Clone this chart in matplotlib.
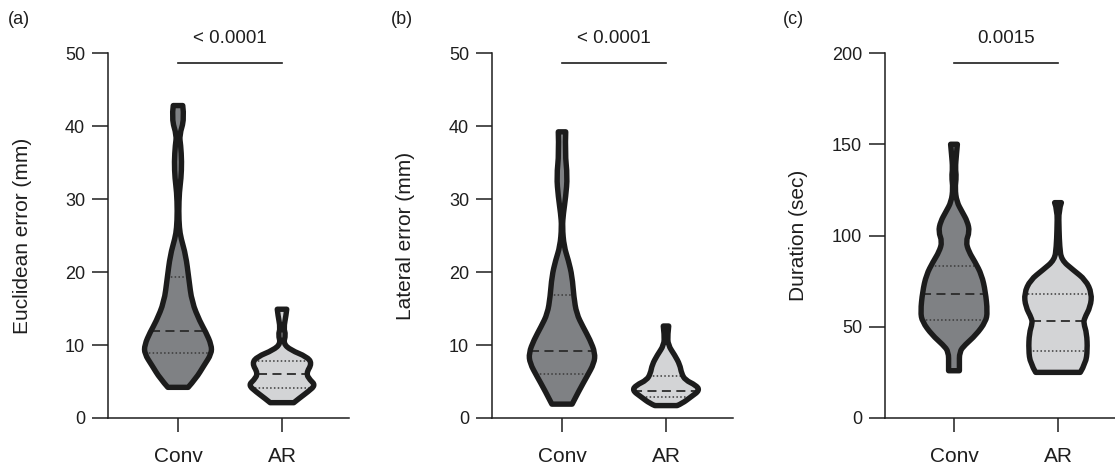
import numpy as np
import matplotlib
matplotlib.use("Agg")
import matplotlib.pyplot as plt
from matplotlib.path import Path
from matplotlib.patches import PathPatch

plt.rcParams['font.family'] = ['Liberation Sans', 'DejaVu Sans']

# ---------------- data ----------------
categories = ["Conv", "AR"]
panel_tags = ["(a)", "(b)", "(c)"]
y_labels = ["Euclidean error (mm)", "Lateral error (mm)", "Duration (sec)"]
y_ticks = [[0, 10, 20, 30, 40, 50], [0, 10, 20, 30, 40, 50], [0, 50, 100, 150, 200]]
p_values = ["< 0.0001", "< 0.0001", "0.0015"]

# violin profiles: value levels (bottom -> top) and relative half-width (max ~1)
a_conv_y = [4.2, 5.4, 7.2, 8.8, 10.0, 11.8, 13.2, 15.9, 19.1, 22.3, 24.6, 26.0, 28.3, 31.0, 32.8, 35.1, 37.4, 38.7, 41.0, 42.8]
a_conv_w = [0.30, 0.53, 0.77, 0.99, 0.99, 0.82, 0.65, 0.41, 0.32, 0.23, 0.09, 0.04, 0.02, 0.04, 0.09, 0.11, 0.08, 0.04, 0.19, 0.14]
a_ar_y = [2.1, 2.7, 3.6, 4.5, 5.2, 6.1, 7.5, 8.4, 9.3, 10.2, 11.4, 12.3, 14.1, 14.9]
a_ar_w = [0.35, 0.51, 0.77, 0.99, 0.83, 0.71, 0.89, 0.73, 0.26, 0.04, 0.11, 0.05, 0.12, 0.14]

b_conv_y = [1.9, 3.8, 5.7, 7.5, 8.9, 10.7, 12.5, 14.3, 16.6, 19.4, 21.6, 23.5, 26.2, 28.0, 30.3, 33.1, 36.3, 39.2]
b_conv_w = [0.30, 0.51, 0.74, 0.95, 0.98, 0.83, 0.62, 0.43, 0.35, 0.30, 0.19, 0.06, 0.01, 0.04, 0.11, 0.16, 0.09, 0.11]
b_ar_y = [1.7, 2.0, 2.9, 3.8, 4.5, 5.2, 6.1, 7.3, 8.6, 10.0, 11.4, 12.6]
b_ar_w = [0.33, 0.48, 0.74, 1.00, 0.88, 0.57, 0.46, 0.41, 0.26, 0.06, 0.05, 0.08]

c_conv_y = [25.9, 29.0, 36.3, 40.0, 45.5, 52.8, 58.2, 69.2, 78.4, 85.6, 91.1, 96.6, 102.1, 107.6, 113.0, 118.5, 125.9, 132.2, 136.8, 144.1, 150.0]
c_conv_w = [0.16, 0.16, 0.16, 0.32, 0.65, 0.94, 0.99, 0.93, 0.82, 0.62, 0.44, 0.35, 0.46, 0.40, 0.24, 0.08, 0.03, 0.07, 0.04, 0.07, 0.10]
c_ar_y = [25.0, 30.0, 37.3, 46.4, 51.9, 54.6, 61.0, 68.3, 75.6, 81.1, 86.6, 93.9, 103.0, 114.0, 118.0]
c_ar_w = [0.66, 0.82, 0.87, 0.85, 0.76, 0.78, 0.96, 1.00, 0.82, 0.45, 0.10, 0.05, 0.03, 0.02, 0.10]

# quartiles (Q1, median, Q3)
a_conv_q = [8.9, 11.9, 19.3]
a_ar_q = [4.15, 6.0, 7.8]
b_conv_q = [6.0, 9.2, 16.9]
b_ar_q = [2.83, 3.74, 5.8]
c_conv_q = [53.7, 67.9, 83.3]
c_ar_q = [36.7, 53.2, 67.9]

panels = [
    dict(conv=(a_conv_y, a_conv_w, a_conv_q), ar=(a_ar_y, a_ar_w, a_ar_q), ymax=50, bar=48.6, ptxt=52.0),
    dict(conv=(b_conv_y, b_conv_w, b_conv_q), ar=(b_ar_y, b_ar_w, b_ar_q), ymax=50, bar=48.6, ptxt=52.0),
    dict(conv=(c_conv_y, c_conv_w, c_conv_q), ar=(c_ar_y, c_ar_w, c_ar_q), ymax=200, bar=194.5, ptxt=208.0),
]

# ---------------- styling ----------------
W, H = 1115, 466
fig = plt.figure(figsize=(W / 100, H / 100), dpi=100)
fill_colors = ["#7f8184", "#d3d4d6"]
edge_color = "#1c1c1c"
HALF_MAX = 0.325  # max half width in category units

# axes boxes in pixels: left, right, conv-x
boxes = [(108, 349, 178), (492, 733, 562), (885, 1115, 954)]
ylab_x = [23, 405, 798]
tag_x = [8, 391, 783]
top_px, bot_px = 53, 418
txt_color = "#1e1e1e"


def mid(p, q):
    return ((p[0] + q[0]) / 2, (p[1] + q[1]) / 2)


def violin_path(center, ys, ws):
    R = [(center + w * HALF_MAX, y) for y, w in zip(ys, ws)]
    L = [(center - w * HALF_MAX, y) for y, w in zip(ys, ws)][::-1]
    verts, codes = [R[0]], [Path.MOVETO]

    def add_side(P):
        n = len(P)
        for k in range(1, n - 1):
            end = mid(P[k], P[k + 1]) if k < n - 2 else P[n - 1]
            verts.extend([P[k], end])
            codes.extend([Path.CURVE3, Path.CURVE3])

    add_side(R)
    verts.append(L[0]); codes.append(Path.LINETO)
    add_side(L)
    verts.append(R[0]); codes.append(Path.CLOSEPOLY)
    return Path(verts, codes)


for i, pan in enumerate(panels):
    left, right, cx = boxes[i]
    ax = fig.add_axes([left / W, 1 - bot_px / H, (right - left) / W, (bot_px - top_px) / H])
    ax.set_xlim((left - cx) / 104, (right - cx) / 104)
    ax.set_ylim(0, pan["ymax"])

    for j, key in enumerate(["conv", "ar"]):
        ys, ws, q = pan[key]
        path = violin_path(j, ys, ws)
        ax.add_patch(PathPatch(path, facecolor=fill_colors[j], edgecolor="none", zorder=2))
        for k, qv in enumerate(q):
            hw = np.interp(qv, ys, ws) * HALF_MAX
            if k == 1:
                ax.plot([j - hw, j + hw], [qv, qv], color="#2b2b2b", lw=1.3,
                        dashes=(5, 3), zorder=3, solid_capstyle="butt")
            else:
                ax.plot([j - hw, j + hw], [qv, qv], color="#3a3a3a", lw=1.1,
                        dashes=(1, 1.5), zorder=3)
        ax.add_patch(PathPatch(path, facecolor="none", edgecolor=edge_color, lw=3.9,
                               joinstyle="round", zorder=4))

    # significance bar
    ax.plot([0, 1], [pan["bar"], pan["bar"]], color=txt_color, lw=1.2, clip_on=False)
    ax.text(0.5, pan["ptxt"], p_values[i], ha="center", va="center", fontsize=13.5,
            color=txt_color, clip_on=False)

    for s in ["top", "right"]:
        ax.spines[s].set_visible(False)
    for s in ["left", "bottom"]:
        ax.spines[s].set_linewidth(1.1)
        ax.spines[s].set_color(txt_color)
    ax.set_yticks(y_ticks[i])
    ax.set_xticks([0, 1])
    ax.set_xticklabels(categories)
    ax.tick_params(axis="y", length=11.5, width=1.1, pad=5, labelsize=13, colors=txt_color)
    ax.tick_params(axis="x", length=10, width=1.1, pad=11, labelsize=15, colors=txt_color)
    ax.set_ylabel(y_labels[i], fontsize=15, color=txt_color)
    ax.yaxis.set_label_coords((ylab_x[i] - left) / (right - left), 0.5)
    ax.yaxis.label.set_va("center")
    ax.patch.set_alpha(0)

    fig.text(tag_x[i] / W, 1 - 20 / H, panel_tags[i], ha="left", va="center",
             fontsize=13, color=txt_color)

fig.savefig("out.png", dpi=100)
